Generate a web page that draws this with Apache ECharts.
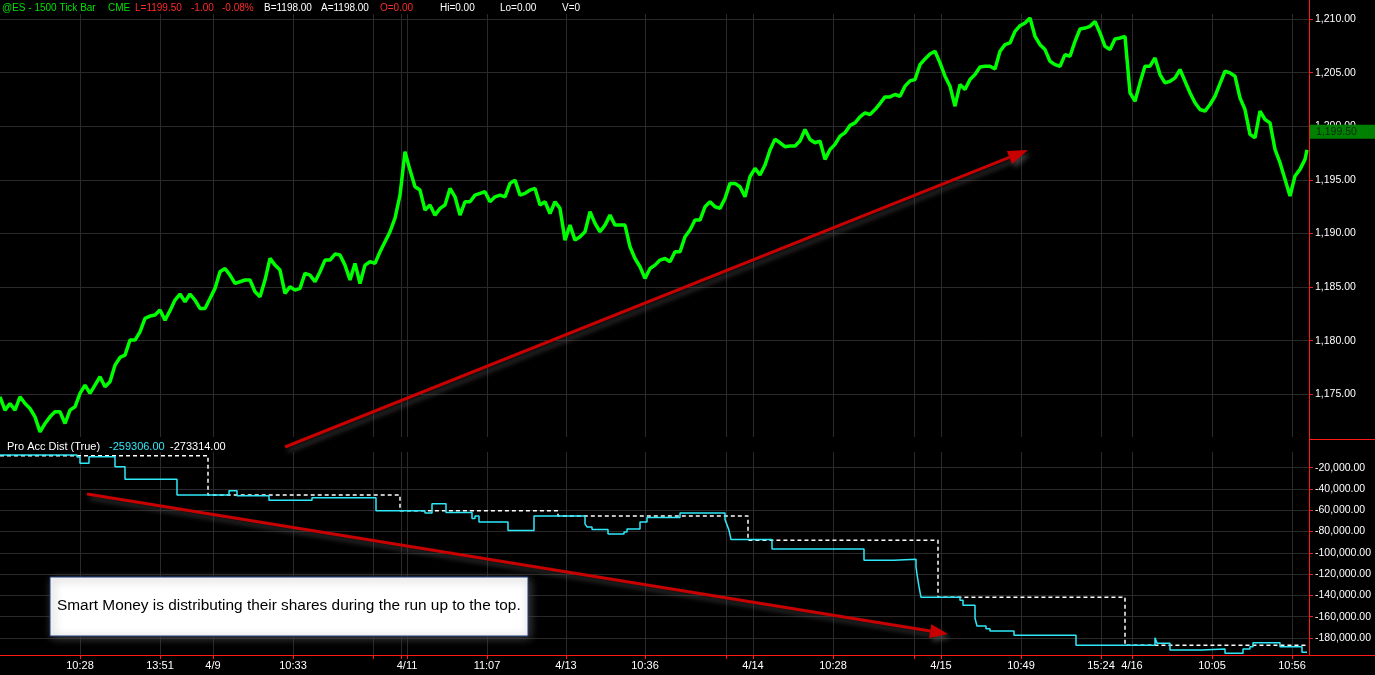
<!DOCTYPE html>
<html>
<head>
<meta charset="utf-8">
<script src="https://cdn.jsdelivr.net/npm/echarts@6/dist/echarts.min.js"></script>
<style>body{margin:0;background:#000;}</style>
</head>
<body>
<div id="main" style="width:1375px;height:675px;"></div>
<script type="text/javascript">
// bars on the x axis, and where the time/date ticks fall
var barCount = 1310;
var tickBars = [80, 160, 213, 293, 373, 401, 407, 487, 566, 645, 726, 753, 833, 914, 941, 1021, 1101, 1132, 1212, 1292];
var tickText = ['10:28', '13:51', '4/9', '10:33', '', '', '4/11', '11:07', '4/13', '10:36', '', '4/14', '10:28', '', '4/15', '10:49', '15:24', '4/16', '10:05', '10:56'];

// price read every 5 bars
var priceStep = 5;
var priceValues = [
  1174.77, 1173.53, 1174.15, 1173.53, 1174.77, 1174.15, 1173.68, 1172.9, 1171.5, 1172.28,
  1172.9, 1173.37, 1173.37, 1172.28, 1173.53, 1173.84, 1175.08, 1175.86, 1175.08, 1175.86,
  1176.64, 1175.7, 1176.17, 1177.72, 1178.44, 1178.66, 1180.06, 1180.06, 1180.83, 1182.08,
  1182.3, 1182.39, 1182.86, 1181.92, 1182.8, 1183.79, 1184.35, 1183.63, 1184.35, 1183.79,
  1183.01, 1183.01, 1183.94, 1184.88, 1186.43, 1186.74, 1186.12, 1185.34, 1185.5, 1185.66,
  1185.66, 1184.57, 1184.1, 1185.66, 1187.68, 1187.05, 1186.59, 1184.41, 1185.03, 1184.72,
  1184.88, 1186.28, 1186.12, 1185.5, 1186.43, 1187.52, 1187.52, 1188.08, 1187.99, 1187.05,
  1185.66, 1187.21, 1185.34, 1187.05, 1187.37, 1187.21, 1188.3, 1189.23, 1190.16, 1191.44,
  1193.58, 1197.62, 1195.91, 1194.36, 1194.05, 1192.18, 1192.65, 1191.71, 1192.34, 1192.65,
  1194.2, 1193.42, 1191.71, 1192.96, 1192.96, 1193.58, 1193.74, 1193.89, 1192.96, 1193.42,
  1193.58, 1193.42, 1194.67, 1194.98, 1193.58, 1193.74, 1194.05, 1194.2, 1192.65, 1192.96,
  1191.87, 1192.96, 1192.34, 1189.38, 1190.78, 1189.38, 1189.69, 1190.16, 1192.03, 1190.94,
  1190.16, 1190.78, 1191.71, 1190.78, 1190.78, 1190.78, 1188.76, 1187.67, 1186.9, 1185.81,
  1186.74, 1187.05, 1187.52, 1187.67, 1187.36, 1188.29, 1188.29, 1189.69, 1190.32, 1191.25,
  1191.25, 1192.49, 1192.96, 1192.49, 1192.34, 1193.27, 1194.67, 1194.67, 1194.36, 1193.42,
  1195.29, 1196.07, 1195.45, 1196.38, 1197.78, 1198.8, 1198.46, 1198.09, 1198.15, 1198.15,
  1198.62, 1199.7, 1198.77, 1198.46, 1198.62, 1196.91, 1197.84, 1198.31, 1199.08, 1199.39,
  1200.08, 1200.32, 1200.88, 1201.25, 1201.1, 1201.56, 1202.12, 1202.74, 1202.74, 1202.96,
  1202.8, 1203.74, 1204.23, 1204.36, 1205.75, 1206.28, 1206.74, 1206.99, 1205.91, 1204.67,
  1203.74, 1201.87, 1203.89, 1203.43, 1204.36, 1204.82, 1205.53, 1205.6, 1205.6, 1205.35,
  1206.99, 1207.61, 1207.77, 1208.85, 1209.38, 1209.63, 1210.09, 1208.39, 1207.61, 1207.15,
  1206.06, 1205.75, 1205.6, 1206.68, 1206.53, 1207.92, 1209.07, 1209.16, 1209.32, 1209.78,
  1208.7, 1207.46, 1207.15, 1208.14, 1208.23, 1208.39, 1203.12, 1202.34, 1204.05, 1205.6,
  1205.6, 1206.37, 1204.82, 1204.05, 1204.2, 1204.51, 1205.29, 1204.2, 1203.12, 1202.19,
  1201.56, 1201.41, 1202.03, 1202.8, 1203.98, 1205.13, 1204.98, 1204.67, 1202.65, 1201.56,
  1199.24, 1198.93, 1201.41, 1200.63, 1200.32, 1197.84, 1196.6, 1195.05, 1193.5, 1195.36,
  1195.98, 1196.91
];
var lastBar = 1307;
var lastBarPrice = 1197.8;
var lastPrice = 1199.50;

// Pro Acc Dist: [bar, value] where the step changes
var proAccLine = [
  [0, -8070], [77, -9950], [80, -15870], [89, -9670], [115, -19060], [125, -30900], [177, -45650],
  [229, -41610], [237, -46300], [269, -50620], [312, -48180], [376, -60390], [425, -62550],
  [432, -53910], [446, -62090], [472, -67720], [475, -65280], [479, -70920], [508, -79090],
  [534, -65280], [585, -72790], [587, -75610], [592, -78150], [608, -82190], [624, -80310],
  [627, -77490], [640, -70920], [647, -66780], [680, -62460], [725, -68660], [727, -73730],
  [729, -78810], [731, -87540], [772, -96370], [864, -107000], [894, -106050], [916, -113000],
  [917, -120140], [919, -131790], [921, -141750], [960, -144500], [963, -149260], [975, -161480],
  [977, -168700], [986, -171240], [990, -173400], [1014, -177440], [1076, -186840], [1155, -179700],
  [1157, -184960], [1170, -191250], [1202, -190310], [1225, -194350], [1243, -190310],
  [1250, -188150], [1253, -184390], [1280, -188150], [1302, -193410], [1307, -193410]
];
var proAccSignal = [
  [0, -8730], [208, -45650], [400, -60490], [558, -65280], [748, -88200],
  [938, -141750], [1125, -186840], [1307, -186840]
];

var categories = [];
for (var i = 0; i < barCount; i++) categories.push('');
var tickSet = {};
tickBars.forEach(function (b, k) { categories[b] = tickText[k]; tickSet[b] = true; });
var onTick = function (idx) { return !!tickSet[idx]; };

var priceData = priceValues.map(function (v, i) { return [i * priceStep, v]; });
priceData.push([lastBar, lastBarPrice]);

var fmt = function (v) {
  return v.toLocaleString('en-US', {minimumFractionDigits: 2, maximumFractionDigits: 2});
};

var FONT = 'Liberation Sans, Arial, sans-serif';
var gridColor = '#2a2a2a';
var axisRed = '#ff1a1a';

var myChart = echarts.init(document.getElementById('main'));
myChart.setOption({
  backgroundColor: '#000',
  animation: false,
  grid: [
    {left: 0, top: 14, width: 1309, height: 423},
    {left: 0, top: 452, width: 1309, height: 203}
  ],
  xAxis: [
    {
      type: 'category', gridIndex: 0, data: categories, boundaryGap: false,
      axisLine: {show: false}, axisTick: {show: false}, axisLabel: {show: false},
      splitLine: {show: true, interval: onTick, lineStyle: {color: gridColor, width: 1}}
    },
    {
      type: 'category', gridIndex: 1, data: categories, boundaryGap: false,
      axisLine: {show: true, lineStyle: {color: axisRed, width: 1}},
      axisTick: {show: true, interval: onTick, length: 4, lineStyle: {color: axisRed}},
      axisLabel: {show: true, interval: onTick, color: '#fff', fontSize: 11, fontFamily: FONT, margin: 5},
      splitLine: {show: true, interval: onTick, lineStyle: {color: gridColor, width: 1}}
    }
  ],
  yAxis: [
    {
      type: 'value', gridIndex: 0, position: 'right', min: 1171.02, max: 1210.47, splitNumber: 8,
      axisLine: {show: true, lineStyle: {color: axisRed}},
      axisTick: {show: true, length: 4, lineStyle: {color: axisRed}},
      axisLabel: {color: '#fff', fontSize: 10.5, fontFamily: FONT, margin: 6, showMinLabel: false, showMaxLabel: false, formatter: fmt},
      splitLine: {show: true, showMinLine: false, showMaxLine: false, lineStyle: {color: gridColor, width: 1}}
    },
    {
      type: 'value', gridIndex: 1, position: 'right', min: -196000, max: -5250, splitNumber: 10,
      axisLine: {show: true, lineStyle: {color: axisRed}},
      axisTick: {show: true, length: 4, lineStyle: {color: axisRed}},
      axisLabel: {color: '#fff', fontSize: 10.5, fontFamily: FONT, margin: 6, showMinLabel: false, showMaxLabel: false, formatter: fmt},
      splitLine: {show: true, showMinLine: false, showMaxLine: false, lineStyle: {color: gridColor, width: 1}}
    }
  ],
  series: [
    {
      name: 'ES', type: 'line', xAxisIndex: 0, yAxisIndex: 0, data: priceData,
      symbol: 'none', lineStyle: {color: '#00ff00', width: 3.5}
    },
    {
      name: 'signal', type: 'line', xAxisIndex: 1, yAxisIndex: 1, data: proAccSignal, step: 'end',
      symbol: 'none', lineStyle: {color: '#ffffff', width: 1.5, type: [4, 3]}
    },
    {
      name: 'Pro Acc Dist', type: 'line', xAxisIndex: 1, yAxisIndex: 1, data: proAccLine, step: 'end',
      symbol: 'none', lineStyle: {color: '#2ee8f8', width: 1.5}
    }
  ]
});

var tagY = myChart.convertToPixel({yAxisIndex: 0}, lastPrice);

var txt = function (x, y, s, color, size) {
  return {type: 'text', x: x, y: y, z: 100,
    style: {text: s, fill: color, font: (size || 11) + 'px ' + FONT, verticalAlign: 'middle'}};
};
var arrowShadow = {shadowBlur: 5, shadowColor: 'rgba(95,95,95,0.6)', shadowOffsetX: 3, shadowOffsetY: 4};

myChart.setOption({
  graphic: [
    // header
    txt(2, 8, '@ES - 1500 Tick Bar', '#00e000', 10),
    txt(108, 8, 'CME', '#00e000', 10),
    txt(135, 8, 'L=1199.50', '#ff2a2a', 10),
    txt(191, 8, '-1.00', '#ff2a2a', 10),
    txt(222, 8, '-0.08%', '#ff2a2a', 10),
    txt(264, 8, 'B=1198.00', '#ffffff', 10),
    txt(321, 8, 'A=1198.00', '#ffffff', 10),
    txt(380, 8, 'O=0.00', '#ff2a2a', 10),
    txt(440, 8, 'Hi=0.00', '#ffffff', 10),
    txt(500, 8, 'Lo=0.00', '#ffffff', 10),
    txt(562, 8, 'V=0', '#ffffff', 10),
    // indicator legend
    txt(7, 447, 'Pro Acc Dist (True)', '#ffffff'),
    txt(109, 447, '-259306.00', '#2ee8f8'),
    txt(170, 447, '-273314.00', '#ffffff'),
    // axis frame
    {type: 'line', z: 90, shape: {x1: 1309.5, y1: 0, x2: 1309.5, y2: 655}, style: {stroke: axisRed, lineWidth: 1}},
    {type: 'line', z: 90, shape: {x1: 1309, y1: 439.5, x2: 1375, y2: 439.5}, style: {stroke: axisRed, lineWidth: 1}},
    {type: 'line', z: 90, shape: {x1: 1309, y1: 655.5, x2: 1375, y2: 655.5}, style: {stroke: axisRed, lineWidth: 1}},
    // last price tag
    {type: 'rect', z: 100, shape: {x: 1310, y: tagY - 7, width: 65, height: 14}, style: {fill: '#008000'}},
    {type: 'text', z: 101, x: 1316, y: tagY, style: {text: fmt(lastPrice), fill: '#0b2a0b', font: '10.5px ' + FONT, verticalAlign: 'middle'}},
    // arrows
    {type: 'line', z: 50, shape: {x1: 285, y1: 447, x2: 1009.4, y2: 157.4},
      style: Object.assign({stroke: '#c80000', lineWidth: 3}, arrowShadow)},
    {type: 'polygon', z: 50, shape: {points: [[1028, 150], [1012, 163.9], [1006.8, 150.9]]},
      style: Object.assign({fill: '#c80000'}, arrowShadow)},
    {type: 'line', z: 50, shape: {x1: 87, y1: 494, x2: 930.2, y2: 631.1},
      style: Object.assign({stroke: '#c80000', lineWidth: 3}, arrowShadow)},
    {type: 'polygon', z: 50, shape: {points: [[948, 634], [929.1, 638], [931.3, 624.2]]},
      style: Object.assign({fill: '#c80000'}, arrowShadow)},
    // note box
    {type: 'rect', z: 60, shape: {x: 50, y: 577, width: 478, height: 59},
      style: {fill: '#ffffff', stroke: '#1f3d7a', lineWidth: 1, shadowBlur: 9, shadowColor: 'rgba(70,70,70,0.95)', shadowOffsetX: 2, shadowOffsetY: 2}},
    {type: 'text', z: 61, x: 57, y: 606, style: {text: 'Smart Money is distributing their shares during the run up to the top.',
      fill: '#000', font: '15.4px ' + FONT, verticalAlign: 'middle'}}
  ]
});
</script>
</body>
</html>
